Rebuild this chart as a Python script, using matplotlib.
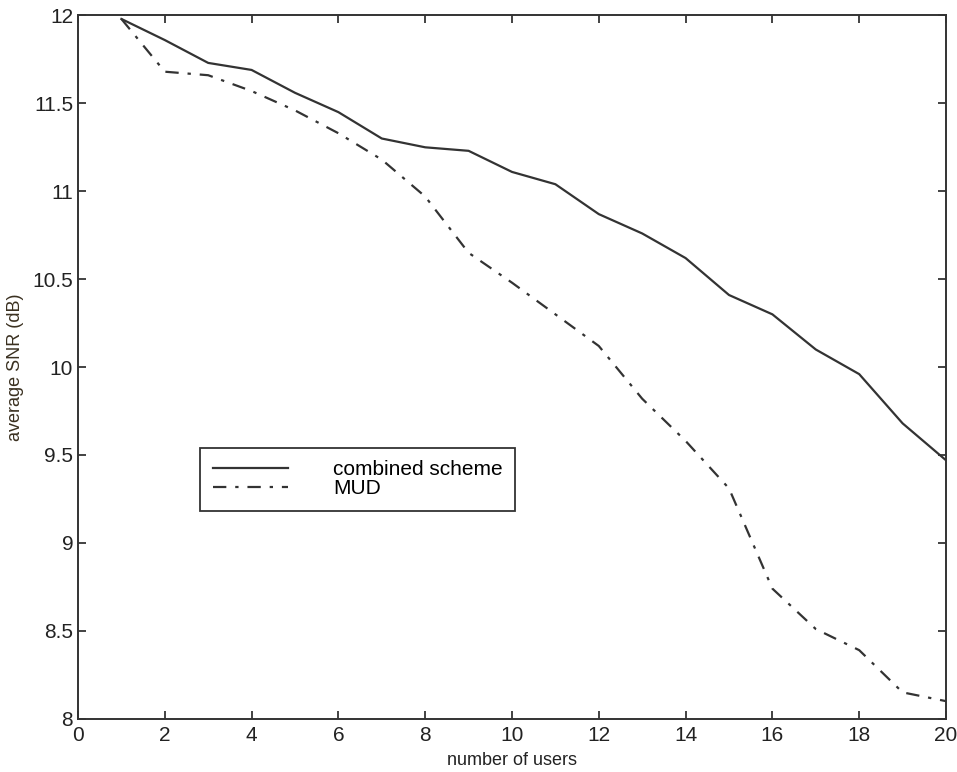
import numpy as np
import matplotlib.pyplot as plt

plt.rcParams['font.family'] = ['Liberation Sans', 'DejaVu Sans']

# data
users = [1, 2, 3, 4, 5, 6, 7, 8, 9, 10, 11, 12, 13, 14, 15, 16, 17, 18, 19, 20]
snr_combined = [11.98, 11.86, 11.73, 11.69, 11.56, 11.45, 11.30, 11.25, 11.23, 11.11,
                11.04, 10.87, 10.76, 10.62, 10.41, 10.30, 10.10, 9.96, 9.68, 9.47]
snr_mud = [11.98, 11.68, 11.66, 11.57, 11.46, 11.33, 11.18, 10.97, 10.65, 10.48,
           10.30, 10.12, 9.82, 9.58, 9.31, 8.74, 8.51, 8.39, 8.15, 8.10]

xticks = np.arange(0, 21, 2)
yticks = [8, 8.5, 9, 9.5, 10, 10.5, 11, 11.5, 12]
ytick_labels = ['8', '8.5', '9', '9.5', '10', '10.5', '11', '11.5', '12']

fig = plt.figure(figsize=(9.57, 7.72), dpi=100)
ax = fig.add_axes([0.0815, 0.069, 0.907, 0.911])

ax.plot(users, snr_combined, color='#333333', linewidth=1.6, label='combined scheme')
ax.plot(users, snr_mud, color='#333333', linewidth=1.6, linestyle=(0, (6, 4, 1.5, 4)), label='MUD')

ax.set_xlim(0, 20)
ax.set_ylim(8, 12)
ax.set_xticks(xticks)
ax.set_yticks(yticks)
ax.set_yticklabels(ytick_labels)
ax.tick_params(direction='in', length=6, width=1.2, top=True, right=True,
               labelsize=15, colors='#222222')
ax.tick_params(axis='x', pad=5)
for s in ax.spines.values():
    s.set_linewidth(1.4)
    s.set_color('#333333')

ax.set_xlabel('number of users', fontsize=13, color='#222222', labelpad=5)
ax.set_ylabel('average SNR (dB)', fontsize=13, color='#3a3020', labelpad=6)

leg = ax.legend(loc='upper left', bbox_to_anchor=(0.209, 0.42), bbox_transform=fig.transFigure,
                fontsize=15, handlelength=3.6, handletextpad=2.2, borderpad=0.6,
                labelspacing=0.0, fancybox=False, framealpha=1, borderaxespad=0)
leg.get_frame().set_edgecolor('#333333')
leg.get_frame().set_linewidth(1.3)

plt.savefig('out.png', dpi=100)
plt.close()
